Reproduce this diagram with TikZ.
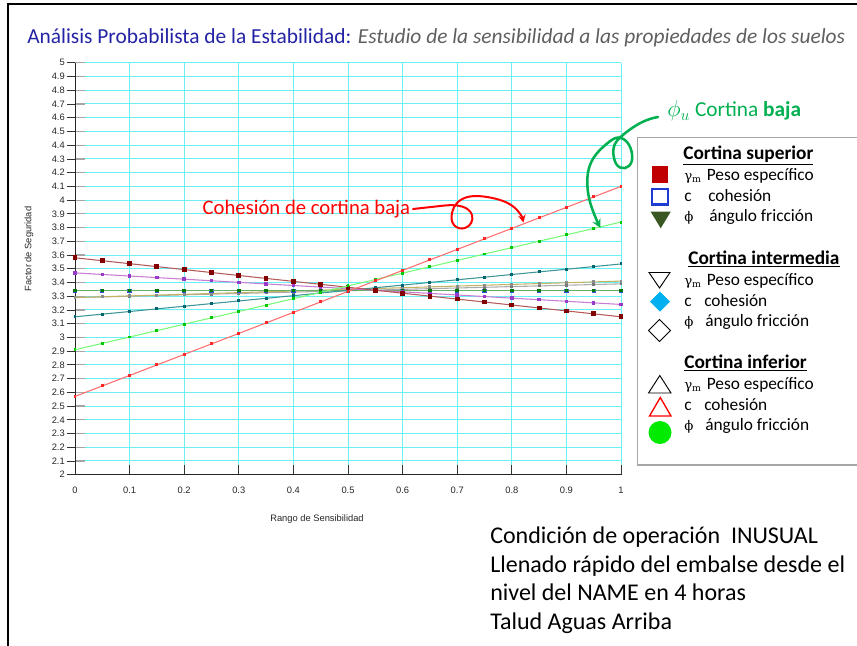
\documentclass[tikz,border=0pt]{standalone}
\usepackage{fontspec}
\setmainfont{Carlito}
\newfontfamily\chartfont{Liberation Sans}
\newfontfamily\greekfont{DejaVu Serif}
\usetikzlibrary{hobby}

\definecolor{titleblue}{RGB}{35,35,165}
\definecolor{subgray}{RGB}{95,95,95}
\definecolor{gridcyan}{RGB}{105,240,245}
\definecolor{annogreen}{RGB}{0,176,80}
\definecolor{supred}{RGB}{192,0,0}
\definecolor{supblue}{RGB}{30,60,210}
\definecolor{supgreen}{RGB}{56,87,35}
\definecolor{intblue}{RGB}{0,176,240}
\definecolor{infgreen}{RGB}{0,235,0}
% series colours: line / marker
\definecolor{lnA}{RGB}{180,90,90}   \definecolor{mkA}{RGB}{130,0,0}
\definecolor{lnB}{RGB}{200,125,210} \definecolor{mkB}{RGB}{150,60,200}
\definecolor{lnC}{RGB}{0,50,150}    \definecolor{mkC}{RGB}{50,80,220}
\definecolor{lnD}{RGB}{100,175,100} \definecolor{mkD}{RGB}{0,120,0}
\definecolor{lnE}{RGB}{195,180,100} \definecolor{mkE}{RGB}{140,140,140}
\definecolor{lnF}{RGB}{170,170,170} \definecolor{mkF}{RGB}{120,120,120}
\definecolor{lnG}{RGB}{60,150,150}  \definecolor{mkG}{RGB}{0,100,110}
\definecolor{lnH}{RGB}{120,250,120} \definecolor{mkH}{RGB}{0,200,0}
\definecolor{lnI}{RGB}{255,110,110} \definecolor{mkI}{RGB}{255,40,40}

\pgfkeys{/pgf/number format/.cd, fixed, precision=1, assume math mode=true}

\tikzset{
  ticklbl/.style={font=\chartfont\fontsize{7pt}{8pt}\selectfont, text=black!85, inner sep=0pt},
  legtitle/.style={font=\fontsize{14.5pt}{16pt}\selectfont\bfseries, anchor=base west, inner sep=0pt},
  legsym/.style={font=\greekfont\fontsize{10pt}{12pt}\selectfont, anchor=base west, inner sep=0pt},
  legtext/.style={font=\fontsize{13pt}{15pt}\selectfont, anchor=base west, inner sep=0pt},
}

\begin{document}
\begin{tikzpicture}[x=0.75pt, y=-0.75pt]
		\useasboundingbox (0,0) rectangle (857,646);

		% slide frame
		\draw[line width=1.8pt] (857,4) -- (8,4) -- (8,646);

		% title
		\node[anchor=base west, inner sep=0pt, font=\fontsize{16.05pt}{17pt}\selectfont] (title) at (27,43.5)
			{\textcolor{titleblue}{Análisis Probabilista de la Estabilidad:} \textcolor{subgray}{\itshape Estudio de la sensibilidad a las propiedades de los suelos}};

		% chart
		\begin{scope}[shift={(75,749.3)}, x=409.5pt, y=102.975pt]
			\foreach \k in {21,...,50} {
				\pgfmathsetmacro\v{\k/10}
				\draw[gridcyan, line width=0.75pt] (0,\v) -- (1,\v);
			}
			\foreach \k in {1,...,10} {
				\draw[gridcyan, line width=0.75pt] (\k/10,2) -- (\k/10,5);
			}
			\foreach \k in {20,...,50} {
				\pgfmathsetmacro\v{\k/10}
				\draw[black!35, line width=0.9pt] (0,\v) -- ++(7.5pt,0);
				\draw[black!80, line width=0.6pt] (0,\v) -- ++(-6pt,0);
				\node[ticklbl, anchor=east, xshift=-7.5pt] (yl\k) at (0,\v) {\pgfmathprintnumber{\v}};
			}
			\foreach \k in {0,...,10} {
				\pgfmathsetmacro\u{\k/10}
				\draw[black!80, line width=0.6pt] (\u,2) -- ++(0,7.5pt);
				\node[ticklbl, anchor=north, yshift=-9pt] (xl\k) at (\u,2) {\pgfmathprintnumber{\u}};
			}
			\draw[black!85, line width=0.6pt] (0,5) -- (0,2) -- (1,2);

			% series (value at 0 / value at 1 / line / marker / half size)
			\foreach \va/\vb/\lc/\mc/\ms in {3.29/3.39/lnF/mkF/1.1pt, 3.29/3.41/lnE/mkE/1.1pt,
					3.34/3.34/lnC/mkC/1.6pt, 3.34/3.34/lnD/mkD/1.3pt, 3.15/3.535/lnG/mkG/1.1pt,
					3.47/3.24/lnB/mkB/1.3pt, 3.58/3.15/lnA/mkA/1.8pt,
					2.91/3.84/lnH/mkH/1.1pt, 2.57/4.10/lnI/mkI/1.1pt} {
				\draw[\lc, line width=0.8pt] (0,\va) -- (1,\vb);
				\foreach \i in {0,...,20} {
					\pgfmathsetmacro\t{\i/20}
					\pgfmathsetmacro\v{\va+(\vb-\va)*\t}
					\fill[\mc] (\t,\v) ++(-\ms,-\ms) rectangle ++(2*\ms,2*\ms);
				}
			}
		\end{scope}

		\node[ticklbl] (xtitle) at (317,519) {Rango de Sensibilidad};
		\node[ticklbl, rotate=90] (ytitle) at (29,249) {Factor de Seguridad};

		% legend box
		\draw[black!35, line width=1.2pt] (858,137.5) -- (637.5,137.5) -- (637.5,465) -- (858,465);

		\node[legtitle] (hsup) at (683,159.3) {\underline{Cortina superior}};
		\fill[supred] (651.7,166.3) rectangle ++(16.7,16.7);
		\draw[supblue, line width=1.8pt] (652.2,188.8) rectangle ++(15.6,15.6);
		\fill[supgreen] (650.7,211.7) -- (670.7,211.7) -- (660.7,228.3) -- cycle;
		\node[legsym] (s1) at (684,180.5) {γ\textsubscript{m}};
		\node[legtext] (t1) at (706.5,180.5) {Peso específico};
		\node[legtext] (s2) at (684,201) {c};
		\node[legtext] (t2) at (708,201) {cohesión};
		\node[legsym] (s3) at (684,221) {ϕ};
		\node[legtext] (t3) at (709,221) {ángulo fricción};

		\node[legtitle] (hint) at (688,264.3) {\underline{Cortina intermedia}};
		\draw[line width=0.7pt] (649,272.5) -- (670,272.5) -- (659.5,288) -- cycle;
		\fill[intblue] (660,291.7) -- (670,301.7) -- (660,311.7) -- (650,301.7) -- cycle;
		\draw[line width=0.7pt] (659.5,319.5) -- (670.5,330.5) -- (659.5,341.5) -- (648.5,330.5) -- cycle;
		\node[legsym] (s4) at (684,285) {γ\textsubscript{m}};
		\node[legtext] (t4) at (706.5,285) {Peso específico};
		\node[legtext] (s5) at (684,306) {c};
		\node[legtext] (t5) at (704,306) {cohesión};
		\node[legsym] (s6) at (684,326.5) {ϕ};
		\node[legtext] (t6) at (705,326.5) {ángulo fricción};

		\node[legtitle] (hinf) at (684,368.3) {\underline{Cortina inferior}};
		\draw[line width=0.7pt] (648.5,393) -- (671,393) -- (659.8,375.5) -- cycle;
		\draw[red, line width=1pt] (649.5,416) -- (671,416) -- (660.3,397.5) -- cycle;
		\fill[infgreen] (660,432.5) circle (11.5);
		\node[legsym] (s7) at (684,389.3) {γ\textsubscript{m}};
		\node[legtext] (t7) at (706.5,389.3) {Peso específico};
		\node[legtext] (s8) at (684,410) {c};
		\node[legtext] (t8) at (704,410) {cohesión};
		\node[legsym] (s9) at (684,430) {ϕ};
		\node[legtext] (t9) at (705,430) {ángulo fricción};

		% annotations
		\node[anchor=east, inner sep=2pt, text=red, font=\fontsize{15.5pt}{17pt}\selectfont] (redlbl) at (413,209) {Cohesión de cortina baja};
		\coordinate (redtip) at (523.5,222.5);
		\draw[red, line width=1.5pt, line cap=round, use Hobby shortcut, -stealth]
			(redlbl.east) .. (440,206) .. (462,206.5) .. (472,215) .. (465,228) .. (454,225) .. (452,213)
			.. (458,202) .. (470,196.5) .. (487,197) .. (503,201) .. (515,208) .. (redtip);

		\node[anchor=west, inner sep=0pt, text=annogreen, font=\fontsize{16pt}{18pt}\selectfont] (greenlbl) at (667,111)
			{{\fontsize{17pt}{17pt}\selectfont$\phi_u$} Cortina \textbf{baja}};
		\coordinate (greentip) at (600.5,228);
		\draw[annogreen, line width=1.9pt, line cap=round, use Hobby shortcut, -stealth]
			(658,117) .. (643,121.7) .. (631.7,128.3) .. (621.7,136) .. (614.5,145) .. (614,158) .. (620,167.5)
			.. (629,166) .. (632,154) .. (627,142) .. (619,137.5) .. (609,142) .. (598.3,151.7) .. (590,165)
			.. (587.3,180) .. (589.5,200) .. (594.5,215) .. (greentip);

		% operating condition
		\node[anchor=north west, inner sep=0pt, align=left, font=\fontsize{18pt}{21.3pt}\selectfont] (note) at (490,527)
			{Condición de operación \ INUSUAL\\ Llenado rápido del embalse desde el\\ nivel del NAME en 4 horas\\ Talud Aguas Arriba};
	\end{tikzpicture}
\end{document}
